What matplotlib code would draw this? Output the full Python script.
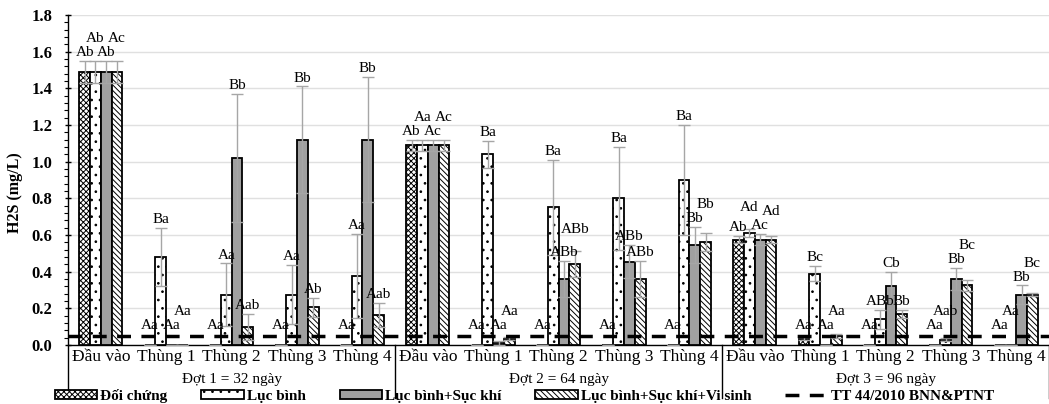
import numpy as np
import matplotlib
matplotlib.use("Agg")
from matplotlib import pyplot as plt
from matplotlib.ticker import MultipleLocator
from matplotlib.lines import Line2D
import matplotlib.transforms as mtrans

# ---- data ----
cats = ["Đầu vào", "Thùng 1", "Thùng 2", "Thùng 3", "Thùng 4"]
groups = ["Đợt 1 = 32 ngày", "Đợt 2 = 64 ngày", "Đợt 3 = 96 ngày"]
names = ["Đối chứng", "Lục bình", "Lục bình+Sục khí", "Lục bình+Sục khí+Vi sinh"]
std_name = "TT 44/2010 BNN&PTNT"
std_value = 0.05

doi_chung = [1.49, 0.0, 0.0, 0.0, 0.0, 1.09, 0.0, 0.0, 0.0, 0.0, 0.575, 0.035, 0.0, 0.0, 0.0]
luc_binh = [1.49, 0.48, 0.275, 0.275, 0.375, 1.09, 1.04, 0.75, 0.80, 0.90, 0.61, 0.39, 0.14, 0.03, 0.0]
suc_khi = [1.49, 0.0, 1.02, 1.12, 1.12, 1.09, 0.01, 0.36, 0.455, 0.545, 0.575, 0.0, 0.32, 0.36, 0.275]
vi_sinh = [1.49, 0.0, 0.10, 0.205, 0.165, 1.09, 0.035, 0.44, 0.36, 0.56, 0.575, 0.05, 0.17, 0.325, 0.275]

err_dc = [0.06, 0, 0, 0, 0, 0.03, 0, 0, 0, 0, 0.02, 0.01, 0, 0, 0]
err_lb = [0.06, 0.16, 0.17, 0.16, 0.23, 0.03, 0.075, 0.26, 0.28, 0.30, 0.02, 0.04, 0.05, 0.01, 0]
err_sk = [0.06, 0, 0.35, 0.29, 0.34, 0.03, 0.01, 0.10, 0.09, 0.10, 0.03, 0, 0.08, 0.06, 0.05]
err_vs = [0.06, 0, 0.07, 0.05, 0.065, 0.03, 0.01, 0.07, 0.10, 0.05, 0.02, 0.01, 0.02, 0.03, 0.01]

lab_dc = ["Ab", "Aa", "Aa", "Aa", "Aa", "Ab", "Aa", "Aa", "Aa", "Aa", "Ab", "Aa", "Aa", "Aa", "Aa"]
lab_lb = ["Ab", "Ba", "Aa", "Aa", "Aa", "Aa", "Ba", "Ba", "Ba", "Ba", "Ad", "Bc", "ABb", "Aab", "Aa"]
lab_sk = ["Ab", "Aa", "Bb", "Bb", "Bb", "Ac", "Aa", "ABb", "ABb", "Bb", "Ac", "Aa", "Cb", "Bb", "Bb"]
lab_vs = ["Ac", "Aa", "Aab", "Ab", "Aab", "Ac", "Aa", "ABb", "ABb", "Bb", "Ad", "Aa", "Bb", "Bc", "Bc"]

values = [doi_chung, luc_binh, suc_khi, vi_sinh]
errors = [err_dc, err_lb, err_sk, err_vs]
labels = [lab_dc, lab_lb, lab_sk, lab_vs]
hatches = ["xxxxxx", "..", "", "\\\\\\\\\\\\"]
faces = ["white", "white", "#a0a0a0", "white"]

plt.rcParams['font.family'] = ['Liberation Serif', 'DejaVu Serif']
plt.rcParams['hatch.linewidth'] = 0.7

fig = plt.figure(figsize=(10.49, 4.04), dpi=100)
ax = fig.add_axes([0.065, 0.146, 0.935, 0.817])

n = len(groups) * len(cats)
x = np.arange(n)
w = 0.165
offs = (np.arange(4) - 1.5) * w

for i in range(4):
    ax.bar(x + offs[i], values[i], w, color=faces[i], edgecolor="black",
           linewidth=1.3, hatch=hatches[i], label=names[i], zorder=3)
    ax.errorbar(x + offs[i], values[i], yerr=errors[i], fmt="none",
                ecolor="#a6a6a6", elinewidth=1, capsize=4, capthick=1, zorder=4)

# letters above bars, alternating height when neighbours collide
for j in range(n):
    prev_y = None
    prev_raised = False
    for i in range(4):
        y = max(values[i][j] + errors[i][j], 0.06) + 0.01
        raised = False
        if prev_y is not None and not prev_raised and abs(y - prev_y) < 0.07:
            y = max(y, prev_y) + 0.075
            raised = True
        ax.text(x[j] + offs[i], y, labels[i][j], ha="center", va="bottom",
                fontsize=11, zorder=6)
        prev_y, prev_raised = y, raised

ax.axhline(std_value, color="black", lw=2.5, linestyle=(0, (4, 3)), zorder=5)

ax.set_xlim(-0.5, n - 0.5)
ax.set_ylim(0, 1.8)
ax.yaxis.set_major_locator(MultipleLocator(0.2))
ax.yaxis.set_minor_locator(MultipleLocator(0.04))
ax.yaxis.set_major_formatter(matplotlib.ticker.FormatStrFormatter("%.1f"))
ax.grid(axis="y", color="#e0e0e0", lw=1, zorder=0)
ax.set_axisbelow(True)
for s in ["top", "right", "left"]:
    ax.spines[s].set_visible(False)
ax.spines["bottom"].set_linewidth(1)
ax.tick_params(axis="y", which="major", length=5, width=1, direction="inout", pad=9)
ax.tick_params(axis="y", which="minor", length=3, width=0.8, direction="out")
for t in ax.get_yticklabels():
    t.set_fontweight("bold")
    t.set_fontsize(12)

ax.set_xticks(x)
ax.set_xticklabels(cats * len(groups), fontsize=12.5)
ax.tick_params(axis="x", length=0, pad=3)
fig.text(15 / 1049, 1 - 193 / 404, "H2S (mg/L)", rotation=90, ha="center", va="center",
         fontsize=11.5, fontweight="bold")

tr = mtrans.blended_transform_factory(ax.transData, ax.transAxes)
for g in range(len(groups)):
    ax.text(g * len(cats) + (len(cats) - 1) / 2, -0.105, groups[g], transform=tr,
            ha="center", va="center", fontsize=11)
for b in range(len(groups) + 1):
    ax.plot([b * len(cats) - 0.5] * 2, [1.0 if b == 0 else 0, -0.16], transform=tr,
            color="black", lw=1, clip_on=False, zorder=2)

handles, lbls = ax.get_legend_handles_labels()
handles.append(Line2D([0], [0], color="black", lw=2.5, linestyle=(0, (4, 3))))
lbls.append(std_name)
fig.legend(handles, lbls, loc="center", bbox_to_anchor=(0.5, 8 / 404), ncol=5,
           frameon=False, handlelength=2.8, handleheight=0.55, columnspacing=2.2,
           handletextpad=0.2, borderpad=0.05, prop={"weight": "bold", "size": 11})

fig.savefig("out.png", dpi=100)
